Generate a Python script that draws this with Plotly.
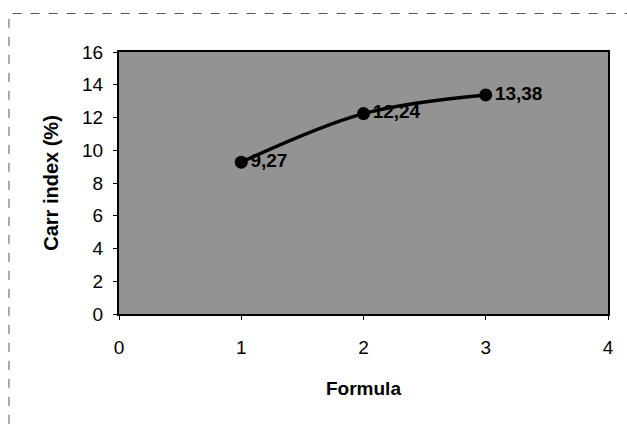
import plotly.graph_objects as go

formula = [1, 2, 3]
carr_index = [9.27, 12.24, 13.38]
labels = ["9,27", "12,24", "13,38"]
x_ticks = [0, 1, 2, 3, 4]
y_ticks = [0, 2, 4, 6, 8, 10, 12, 14, 16]

font_family = "Arial, Liberation Sans, sans-serif"

fig = go.Figure()
fig.add_trace(go.Scatter(
    x=formula, y=carr_index, mode="lines+markers+text",
    text=labels, textposition="middle right",
    textfont=dict(family=font_family, size=19, color="black", weight="bold"),
    line=dict(color="black", width=3.5, shape="spline"),
    marker=dict(color="black", size=13),
    showlegend=False, cliponaxis=False,
))

fig.update_layout(
    width=627, height=428,
    margin=dict(l=119, r=19, t=52, b=114),
    paper_bgcolor="white", plot_bgcolor="#939393",
    font=dict(family=font_family, color="black"),
    xaxis=dict(range=[0, 4], tickvals=x_ticks, ticks="outside", ticklen=4,
               tickcolor="black", showgrid=False, zeroline=False,
               showline=True, linecolor="black", linewidth=2, mirror=True,
               tickfont=dict(size=19), ticklabelstandoff=11,
               title=dict(text="<b>Formula</b>", font=dict(size=19), standoff=25)),
    yaxis=dict(range=[0, 16], tickvals=y_ticks, ticks="outside", ticklen=4,
               tickcolor="black", showgrid=False, zeroline=False,
               showline=True, linecolor="black", linewidth=2, mirror=True,
               tickfont=dict(size=19), ticklabelstandoff=6,
               title=dict(text="<b>Carr index (%)</b>", font=dict(size=20), standoff=18)),
    shapes=[dict(type="rect", xref="paper", yref="paper",
                 x0=-0.225, x1=1.05, y0=-0.6, y1=1.147,
                 line=dict(color="#555555", width=1, dash="dash"), layer="below")],
)

fig.write_html("out.html")
